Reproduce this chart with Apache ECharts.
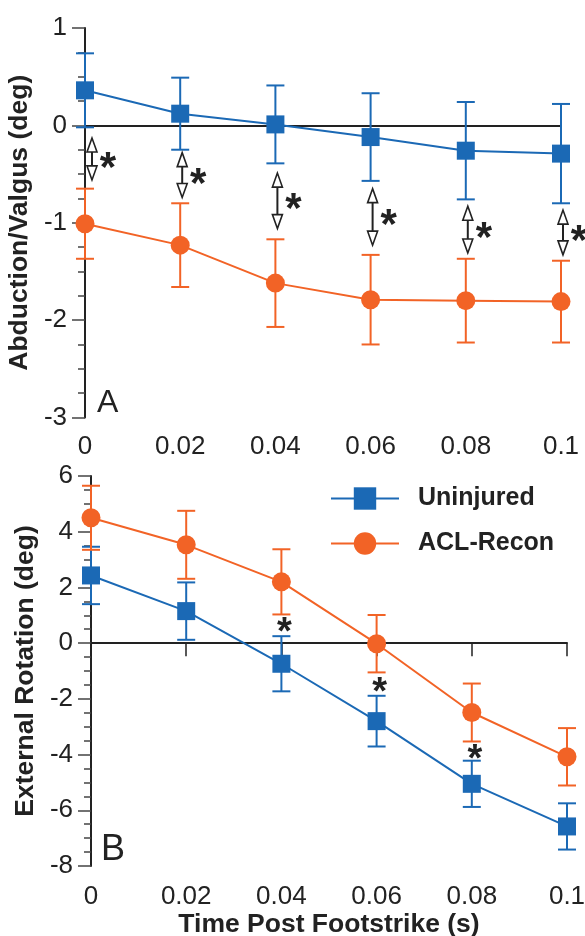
<!DOCTYPE html>
<html><head><meta charset="utf-8">
<script src="https://cdn.jsdelivr.net/npm/echarts@6/dist/echarts.min.js"></script>
<style>html,body{margin:0;padding:0;background:#fff}#c{width:585px;height:936px}</style>
</head><body><div id="c"></div>
<script>
// ---- data ----
const categories = ['0', '0.02', '0.04', '0.06', '0.08', '0.1'];
const seriesNames = ['Uninjured', 'ACL-Recon'];

// Panel A: Abduction/Valgus (deg)
const uninjuredAbdMean = [0.36, 0.12, 0.01, -0.12, -0.26, -0.29];
const uninjuredAbdSD   = [0.38, 0.37, 0.40, 0.45, 0.50, 0.51];
const aclAbdMean       = [-1.01, -1.23, -1.62, -1.79, -1.80, -1.81];
const aclAbdSD         = [0.36, 0.43, 0.45, 0.46, 0.43, 0.42];

// Panel B: External Rotation (deg)
const uninjuredRotMean = [2.43, 1.15, -0.74, -2.80, -5.05, -6.58];
const uninjuredRotSD   = [1.03, 1.03, 0.99, 0.91, 0.83, 0.83];
const aclRotMean       = [4.50, 3.53, 2.20, -0.02, -2.49, -4.08];
const aclRotSD         = [1.15, 1.22, 1.17, 1.03, 1.04, 1.03];

// significance annotations
const arrowTopA    = [-0.13, -0.28, -0.49, -0.65, -0.83, -0.87];
const arrowBottomA = [-0.56, -0.74, -1.06, -1.23, -1.31, -1.33];
const starCatB     = [2, 3, 4];
const starValB     = [0.66, -1.49, -3.89];

// ---- style ----
const BLUE = '#1b69b5';
const ORANGE = '#f26326';
const INK = '#222';
const FONT = '"Liberation Sans", Arial, Helvetica, sans-serif';

function errData(mean, sd) {
  return mean.map((m, i) => [i, m - sd[i], m + sd[i]]);
}
function errRender(color) {
  return function (params, api) {
    const i = api.value(0);
    const pLo = api.coord([i, api.value(1)]);
    const pHi = api.coord([i, api.value(2)]);
    const hw = 9;
    const st = { stroke: color, lineWidth: 2 };
    return { type: 'group', children: [
      { type: 'line', shape: { x1: pHi[0], y1: pHi[1], x2: pLo[0], y2: pLo[1] }, style: st },
      { type: 'line', shape: { x1: pHi[0] - hw, y1: pHi[1], x2: pHi[0] + hw, y2: pHi[1] }, style: st },
      { type: 'line', shape: { x1: pLo[0] - hw, y1: pLo[1], x2: pLo[0] + hw, y2: pLo[1] }, style: st }
    ]};
  };
}
function arrowRender(params, api) {
  const i = api.value(0);
  const pt = api.coord([i, api.value(1)]);
  const pb = api.coord([i, api.value(2)]);
  const x = pt[0] + (i === 0 ? 7 : 2);
  const yt = pt[1], yb = pb[1];
  const hh = 14, hw = 5;
  const head = { fill: '#fff', stroke: INK, lineWidth: 1.6 };
  return { type: 'group', children: [
    { type: 'line', shape: { x1: x, y1: yt + hh, x2: x, y2: yb - hh }, style: { stroke: INK, lineWidth: 2 } },
    { type: 'polygon', shape: { points: [[x, yt], [x - hw, yt + hh], [x + hw, yt + hh]] }, style: head },
    { type: 'polygon', shape: { points: [[x, yb], [x - hw, yb - hh], [x + hw, yb - hh]] }, style: head },
    { type: 'text', x: x + 16, y: (yt + yb) / 2 + 10,
      style: { text: '*', fontSize: 42, fontWeight: 'bold', fill: INK, align: 'center', verticalAlign: 'middle', fontFamily: FONT } }
  ]};
}
function starRender(params, api) {
  const p = api.coord([api.value(0), api.value(1)]);
  return { type: 'text', x: p[0] + 3, y: p[1] + 9,
    style: { text: '*', fontSize: 38, fontWeight: 'bold', fill: INK, align: 'center', verticalAlign: 'middle', fontFamily: FONT } };
}

const labelStyle = { fontSize: 26, color: INK, fontFamily: FONT };
const nameStyle = { fontSize: 26.5, fontWeight: 'bold', color: INK, fontFamily: FONT };

function yAxis(grid, min, max, interval, name) {
  return {
    gridIndex: grid, type: 'value', min: min, max: max, interval: interval,
    axisLine: { show: true, onZero: false, lineStyle: { color: INK, width: 2 } },
    axisTick: { show: true, length: 13, lineStyle: { color: '#444', width: 1.5 } },
    minorTick: { show: true, splitNumber: 4, length: 7, lineStyle: { color: '#444', width: 1.5 } },
    splitLine: { show: false }, minorSplitLine: { show: false },
    axisLabel: Object.assign({ margin: 18 }, labelStyle),
    name: name, nameLocation: 'middle', nameGap: 47, nameTextStyle: nameStyle
  };
}
function xLabelAxis(grid, margin, name) {
  const a = {
    gridIndex: grid, type: 'category', data: categories, boundaryGap: false, position: 'bottom',
    axisLine: { show: false, onZero: false }, axisTick: { show: false },
    axisLabel: Object.assign({ margin: margin, interval: 0 }, labelStyle),
    splitLine: { show: false }
  };
  if (name) { a.name = name; a.nameLocation = 'middle'; a.nameGap = 44; a.nameTextStyle = nameStyle; }
  return a;
}
function xZeroAxis(grid, ticks) {
  return {
    gridIndex: grid, type: 'category', data: categories, boundaryGap: false, position: 'bottom',
    axisLine: { show: true, onZero: true, lineStyle: { color: INK, width: 2 } },
    axisTick: { show: ticks, length: 13, interval: 0, lineStyle: { color: INK, width: 1.5 } },
    axisLabel: { show: false }, splitLine: { show: false }
  };
}

const option = {
  animation: false,
  backgroundColor: '#fff',
  title: [
    { text: 'A', left: 97, top: 387, padding: 0, textStyle: { fontSize: 32, fontWeight: 'normal', color: INK, fontFamily: FONT } },
    { text: 'B', left: 101, top: 832, padding: 0, textStyle: { fontSize: 36, fontWeight: 'normal', color: INK, fontFamily: FONT } }
  ],
  legend: {
    orient: 'vertical', left: 325, top: 481, itemWidth: 68, itemHeight: 28, itemGap: 20,
    data: seriesNames,
    textStyle: { fontSize: 25, fontWeight: 'bold', color: INK, fontFamily: FONT, padding: [0, 0, 0, 14] }
  },
  grid: [
    { left: 85, top: 28, width: 476, height: 389.5, outerBoundsMode: 'none' },
    { left: 91, top: 476, width: 476, height: 390, outerBoundsMode: 'none' }
  ],
  xAxis: [
    xLabelAxis(0, 16),
    xZeroAxis(0, false),
    xLabelAxis(1, 18, 'Time Post Footstrike (s)'),
    xZeroAxis(1, true)
  ],
  yAxis: [
    yAxis(0, -3, 1, 1, 'Abduction/Valgus (deg)'),
    yAxis(1, -8, 6, 2, 'External Rotation (deg)')
  ],
  series: [
    { type: 'custom', xAxisIndex: 0, yAxisIndex: 0, z: 1, renderItem: errRender(BLUE), data: errData(uninjuredAbdMean, uninjuredAbdSD) },
    { type: 'custom', xAxisIndex: 0, yAxisIndex: 0, z: 1, renderItem: errRender(ORANGE), data: errData(aclAbdMean, aclAbdSD) },
    { type: 'custom', xAxisIndex: 2, yAxisIndex: 1, z: 1, renderItem: errRender(BLUE), data: errData(uninjuredRotMean, uninjuredRotSD) },
    { type: 'custom', xAxisIndex: 2, yAxisIndex: 1, z: 1, renderItem: errRender(ORANGE), data: errData(aclRotMean, aclRotSD) },
    { name: seriesNames[0], type: 'line', xAxisIndex: 0, yAxisIndex: 0, z: 3, data: uninjuredAbdMean,
      symbol: 'rect', symbolSize: 18, lineStyle: { color: BLUE, width: 2 }, itemStyle: { color: BLUE, opacity: 1 } },
    { name: seriesNames[1], type: 'line', xAxisIndex: 0, yAxisIndex: 0, z: 3, data: aclAbdMean,
      symbol: 'circle', symbolSize: 19, lineStyle: { color: ORANGE, width: 2 }, itemStyle: { color: ORANGE, opacity: 1 } },
    { name: seriesNames[0], type: 'line', xAxisIndex: 2, yAxisIndex: 1, z: 3, data: uninjuredRotMean,
      symbol: 'rect', symbolSize: 18, lineStyle: { color: BLUE, width: 2 }, itemStyle: { color: BLUE, opacity: 1 } },
    { name: seriesNames[1], type: 'line', xAxisIndex: 2, yAxisIndex: 1, z: 3, data: aclRotMean,
      symbol: 'circle', symbolSize: 19, lineStyle: { color: ORANGE, width: 2 }, itemStyle: { color: ORANGE, opacity: 1 } },
    { type: 'custom', xAxisIndex: 0, yAxisIndex: 0, z: 4, renderItem: arrowRender,
      data: categories.map((c, i) => [i, arrowTopA[i], arrowBottomA[i]]) },
    { type: 'custom', xAxisIndex: 2, yAxisIndex: 1, z: 4, renderItem: starRender,
      data: starCatB.map((c, i) => [c, starValB[i]]) }
  ]
};
const chart = echarts.init(document.getElementById('c'), null, { renderer: 'canvas' });
chart.setOption(option);
</script></body></html>
